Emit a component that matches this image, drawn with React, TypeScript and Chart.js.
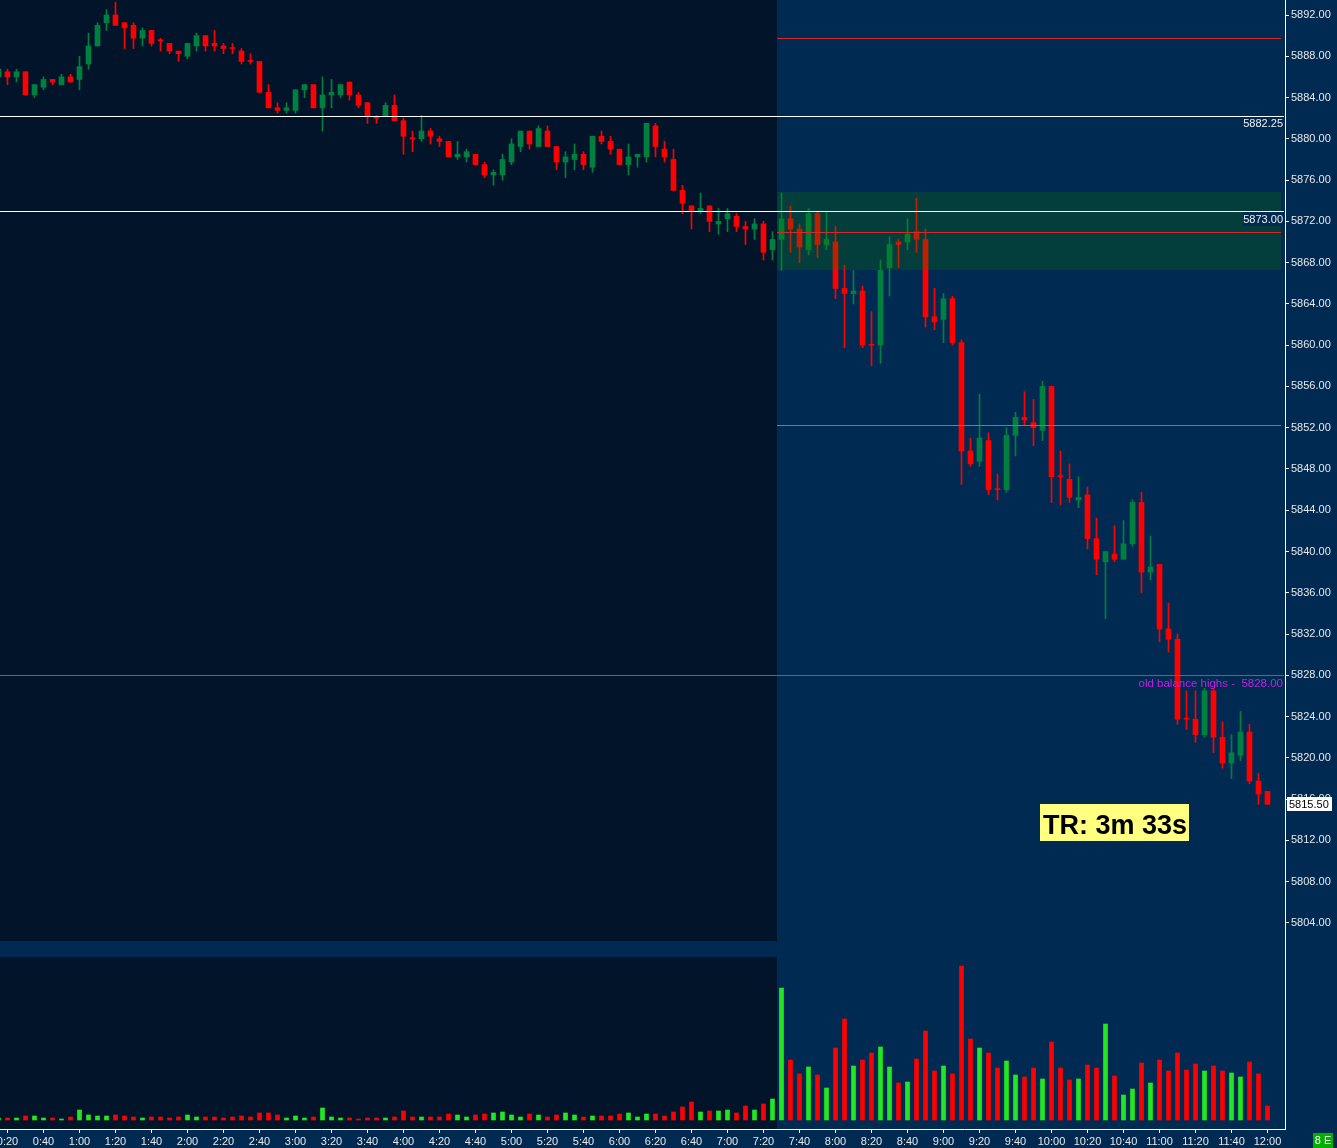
import React, { useEffect, useRef } from "react";
import { Chart, registerables } from "chart.js";

Chart.register(...registerables);

// ---------- DATA (5-minute candles) ----------
const TIMES = [
  "0:15", "0:20", "0:25", "0:30", "0:35", "0:40", "0:45", "0:50", "0:55",
  "1:00", "1:05", "1:10", "1:15", "1:20", "1:25", "1:30", "1:35", "1:40", "1:45", "1:50", "1:55",
  "2:00", "2:05", "2:10", "2:15", "2:20", "2:25", "2:30", "2:35", "2:40", "2:45", "2:50", "2:55",
  "3:00", "3:05", "3:10", "3:15", "3:20", "3:25", "3:30", "3:35", "3:40", "3:45", "3:50", "3:55",
  "4:00", "4:05", "4:10", "4:15", "4:20", "4:25", "4:30", "4:35", "4:40", "4:45", "4:50", "4:55",
  "5:00", "5:05", "5:10", "5:15", "5:20", "5:25", "5:30", "5:35", "5:40", "5:45", "5:50", "5:55",
  "6:00", "6:05", "6:10", "6:15", "6:20", "6:25", "6:30", "6:35", "6:40", "6:45", "6:50", "6:55",
  "7:00", "7:05", "7:10", "7:15", "7:20", "7:25", "7:30", "7:35", "7:40", "7:45", "7:50", "7:55",
  "8:00", "8:05", "8:10", "8:15", "8:20", "8:25", "8:30", "8:35", "8:40", "8:45", "8:50", "8:55",
  "9:00", "9:05", "9:10", "9:15", "9:20", "9:25", "9:30", "9:35", "9:40", "9:45", "9:50", "9:55",
  "10:00", "10:05", "10:10", "10:15", "10:20", "10:25", "10:30", "10:35", "10:40", "10:45", "10:50", "10:55",
  "11:00", "11:05", "11:10", "11:15", "11:20", "11:25", "11:30", "11:35", "11:40", "11:45", "11:50", "11:55",
  "12:00",
];

const OPEN = [
  5886, 5886.5, 5886, 5886.5, 5884.25, 5885, 5885.75, 5885.25, 5886,
  5885.75, 5887.25, 5889, 5891.25, 5892, 5891.25, 5891, 5889.75, 5890.5, 5889.5, 5889.25, 5888.5,
  5888, 5889, 5890, 5889.25, 5889, 5888.75, 5888.5, 5887.5, 5887.5, 5884.5, 5883, 5882.75,
  5882.75, 5884.75, 5885.25, 5883, 5884.25, 5884.25, 5885.5, 5884.25, 5883.5, 5882, 5882.25, 5883.25,
  5881.75, 5880, 5880, 5880.75, 5880, 5879.75, 5878.25, 5878.25, 5878.5, 5877.5, 5876.5, 5876.5,
  5877.75, 5879.25, 5880.75, 5879.25, 5880.75, 5879.25, 5877.75, 5878, 5878.5, 5877.25, 5880.25, 5879.75,
  5879, 5877.5, 5878.25, 5878.25, 5881.25, 5879, 5878, 5875, 5873.5, 5873, 5873.5, 5871.75,
  5872.25, 5872.5, 5871.5, 5871.25, 5871.75, 5869.25, 5870.25, 5872.25, 5871.25, 5869.25, 5872.75, 5869.75,
  5870, 5865.5, 5865, 5865.25, 5860, 5860, 5867.5, 5870, 5870, 5871, 5870.25, 5862.75,
  5862.5, 5864.5, 5860.25, 5849.75, 5848.75, 5850.75, 5846, 5846, 5851.25, 5853, 5852.5, 5851.75,
  5856, 5847.25, 5847, 5845, 5845.5, 5841.25, 5839, 5839.75, 5839.25, 5840.75, 5844.75, 5838,
  5838.75, 5832.5, 5831.5, 5823.75, 5823.75, 5822.25, 5826.5, 5822, 5819.5, 5820.25, 5822.5, 5817.75,
  5816.75,
];

const HIGH = [
  5887, 5886.75, 5886.75, 5886.5, 5885.25, 5886, 5885.75, 5886.25, 5886.25,
  5888, 5890.25, 5891.25, 5892.5, 5893.25, 5891.25, 5891.25, 5890.75, 5890.5, 5889.75, 5889.25, 5888.5,
  5889.25, 5890.25, 5890, 5890.5, 5889.25, 5889.25, 5888.75, 5888.25, 5887.5, 5885.25, 5883.5, 5883.5,
  5884.75, 5885.25, 5885.25, 5886, 5885.75, 5885.25, 5885.5, 5884.5, 5883.5, 5882.25, 5883.5, 5884.25,
  5882, 5880.75, 5882.25, 5881, 5880.25, 5879.75, 5879.75, 5879, 5878.5, 5877.75, 5877, 5878.5,
  5880, 5880.75, 5880.75, 5881.25, 5881.25, 5879.25, 5878.75, 5879.5, 5878.75, 5880.25, 5880.75, 5880.25,
  5879, 5879.5, 5878.5, 5881.5, 5881.5, 5879.75, 5879, 5875.5, 5873.5, 5874.75, 5873.5, 5873.25,
  5873.25, 5872.75, 5872, 5872.25, 5872, 5871, 5874.75, 5873.5, 5871.75, 5873.25, 5873, 5873,
  5871.5, 5867.75, 5867.25, 5865.75, 5863.25, 5868.25, 5870.5, 5870.25, 5872.25, 5874.25, 5871.25, 5865.5,
  5865, 5864.75, 5860.5, 5851, 5855.25, 5851.5, 5847.5, 5852, 5853.5, 5855.5, 5854.75, 5856.5,
  5856, 5849.75, 5848.5, 5847.25, 5846.25, 5843.25, 5840, 5842.5, 5843, 5845, 5845.75, 5841.5,
  5838.75, 5835, 5832, 5826.5, 5826.5, 5826.75, 5826.75, 5823.5, 5822.25, 5824.5, 5823.25, 5818.5,
  5816.75,
];

const LOW = [
  5885.75, 5885.25, 5885.5, 5884.25, 5884, 5884.75, 5885.25, 5885.25, 5885.5,
  5884.75, 5886.75, 5889, 5890.5, 5891, 5888.75, 5888.75, 5889, 5889, 5888.5, 5888.25, 5887.5,
  5887.75, 5888.5, 5888.5, 5888.5, 5888.25, 5888.25, 5887.25, 5887.25, 5884.5, 5883, 5882.5, 5882.5,
  5882.5, 5884, 5883, 5880.75, 5883, 5884, 5883.75, 5883, 5881.5, 5881.5, 5882.25, 5881.75,
  5878.5, 5878.75, 5879.75, 5879.5, 5879.25, 5878.25, 5878, 5877.75, 5877.5, 5876.25, 5875.5, 5876,
  5877.5, 5878.75, 5879, 5879.25, 5879.25, 5877, 5876.25, 5877, 5877, 5876.75, 5879.5, 5878.5,
  5877.5, 5876.5, 5877.25, 5877.75, 5878.25, 5877.75, 5875, 5872.75, 5871.25, 5872.75, 5871, 5870.75,
  5871, 5871, 5869.75, 5870.25, 5868.25, 5868.25, 5867.25, 5869, 5868, 5868.75, 5868.5, 5869.25,
  5864.5, 5859.75, 5864, 5859.75, 5858, 5858.25, 5864.75, 5867.5, 5869.25, 5869, 5861.75, 5861.5,
  5860.25, 5860, 5846.5, 5848.25, 5848.25, 5845.5, 5845, 5845.75, 5849.25, 5852.25, 5850.25, 5850.75,
  5844.75, 5844.5, 5844.75, 5844.25, 5840.25, 5837.75, 5833.5, 5839, 5839.25, 5840.5, 5836, 5837.25,
  5831.25, 5830.25, 5823.25, 5822.75, 5821.5, 5822, 5820.5, 5819, 5818, 5819.75, 5817.5, 5815.5,
  5815.5,
];

const CLOSE = [
  5886.75, 5886, 5886.5, 5884.25, 5885.25, 5885.75, 5885.5, 5886, 5885.5,
  5887, 5889, 5891, 5892, 5891, 5890.75, 5889.75, 5890.5, 5889.25, 5889.5, 5888.5, 5888.25,
  5889.25, 5890, 5889, 5889, 5888.75, 5888.75, 5887.5, 5887.5, 5884.5, 5883, 5882.75, 5883,
  5884.75, 5885.25, 5883, 5884.25, 5884.5, 5885.25, 5884.25, 5883.25, 5882.25, 5882, 5883.25, 5881.75,
  5880.25, 5880, 5880.75, 5880.25, 5879.75, 5878.25, 5878.5, 5878.75, 5877.5, 5876.5, 5876.75, 5878,
  5879.5, 5880.75, 5879.5, 5881, 5879.25, 5877.75, 5878.25, 5878.5, 5877.5, 5880.25, 5879.75, 5879,
  5877.5, 5878.25, 5878.5, 5881.5, 5879.25, 5878.25, 5875, 5873.75, 5873, 5873.25, 5872, 5872,
  5872.75, 5871.5, 5871.25, 5871.75, 5869, 5870.25, 5872.25, 5871.25, 5869.5, 5872.75, 5869.75, 5870.25,
  5865.5, 5865, 5865.25, 5860, 5860, 5867.25, 5869.75, 5869.75, 5870.75, 5870.25, 5862.75, 5862.25,
  5864.5, 5860.25, 5849.75, 5848.5, 5851, 5846, 5846, 5851.25, 5853, 5852.75, 5852, 5856,
  5847.25, 5847.25, 5845.25, 5845.25, 5841.25, 5839.25, 5840, 5839.25, 5840.75, 5844.75, 5838, 5838.5,
  5832.5, 5831.5, 5823.75, 5823.75, 5822.25, 5826.5, 5822, 5819.5, 5820.5, 5822.5, 5817.75, 5816.5,
  5815.5,
];

const VOLUME = [
  2, 2, 2, 4, 4, 2, 2, 1, 3,
  10, 5, 4, 4, 5, 4, 3, 2, 3, 3, 2, 3,
  5, 3, 3, 3, 2, 3, 4, 3, 7, 7, 5, 2,
  4, 2, 3, 12, 3, 2, 2, 1, 2, 2, 2, 3,
  9, 3, 3, 3, 3, 6, 5, 3, 5, 6, 7, 8,
  5, 3, 6, 5, 3, 5, 7, 5, 3, 4, 4, 4,
  6, 7, 3, 6, 6, 4, 8, 13, 18, 8, 9, 9,
  10, 7, 14, 10, 16, 21, 132, 60, 46, 53, 45, 32,
  72, 101, 54, 60, 67, 73, 53, 37, 38, 61, 89, 49,
  54, 46, 154, 81, 72, 67, 52, 59, 45, 43, 52, 41,
  78, 52, 40, 41, 55, 52, 96, 44, 25, 31, 57, 37,
  60, 49, 67, 50, 56, 49, 54, 49, 47, 43, 58, 46,
  14,
];

const PRICE_TICKS = [
  5804, 5808, 5812, 5816, 5820, 5824, 5828, 5832, 5836, 5840, 5844, 5848,
  5852, 5856, 5860, 5864, 5868, 5872, 5876, 5880, 5884, 5888, 5892,
];

const TIME_TICKS = [
  "0:20", "0:40", "1:00", "1:20", "1:40", "2:00", "2:20", "2:40", "3:00", "3:20", "3:40", "4:00",
  "4:20", "4:40", "5:00", "5:20", "5:40", "6:00", "6:20", "6:40", "7:00", "7:20", "7:40", "8:00",
  "8:20", "8:40", "9:00", "9:20", "9:40", "10:00", "10:20", "10:40", "11:00", "11:20", "11:40", "12:00",
];

// Annotation levels
const SESSION_START = "7:27:30";
const ZONE_LEVELS = [5867.3, 5874.85];
const WHITE_LEVELS = [5882.25, 5873.0];
const RED_LEVELS = [5889.75, 5871.0];
const MID_LEVEL = 5852.25;
const BALANCE_LEVEL = 5828.0;
const BALANCE_LABEL = "old balance highs";
const LAST_PRICE = 5815.5;
const TIMER_TEXT = "TR: 3m 33s";
const BADGE_TEXT = "8 E";

// ---------- LAYOUT / STYLE ----------
const W = 1337;
const PRICE_H = 957;
const GAP = 16;
const VOL_H = 191;
const AXIS_W = 52;
const X_MIN = 15.8333;
const X_MAX = 729.7222;
const P_MIN = 5802.2538;
const P_MAX = 5893.4538;
const V_MIN = -9;
const V_MAX = 163;

const BG = "#002a52";
const PRE_BG = "#011429";
const UP = "#008040";
const DOWN = "#ff0000";
const VOL_UP = "#22e822";
const VOL_DOWN = "#ff0000";
const ZONE_FILL = "rgba(11,118,0,0.26)";
const RED_LINE = "#d42a2a";
const MID_LINE = "#c65a5a";
const MAGENTA = "#c31fe8";
const TEXT = "#e8e8e8";
const FONT = '"Liberation Sans", Arial, sans-serif';

const toMin = (t: string) => {
  const p = t.split(":").map(Number);
  return p[0] * 60 + p[1] + (p[2] ? p[2] / 60 : 0);
};
const fmtMin = (v: number) =>
  `${Math.floor(v / 60)}:${String(Math.round(v % 60)).padStart(2, "0")}`;

export default function App() {
  const priceRef = useRef<HTMLCanvasElement>(null);
  const volRef = useRef<HTMLCanvasElement>(null);

  useEffect(() => {
    const xs = TIMES.map(toMin);
    const isUp = (i: number) => CLOSE[i] > OPEN[i];
    const candleColor = (c: any) => (isUp(c.dataIndex) ? UP : DOWN);
    const volColor = (c: any) => (isUp(c.dataIndex) ? VOL_UP : VOL_DOWN);
    const zeroPad = (s: any) => {
      s.paddingTop = 0;
      s.paddingBottom = 0;
      s.paddingLeft = 0;
      s.paddingRight = 0;
    };

    const hline = (ctx: any, yy: number, x0: number, x1: number, col: string) => {
      const y = Math.round(yy) + 0.5;
      ctx.beginPath();
      ctx.moveTo(x0, y);
      ctx.lineTo(x1, y);
      ctx.strokeStyle = col;
      ctx.lineWidth = 1;
      ctx.stroke();
    };

    const pricePlugin = {
      id: "priceDecor",
      beforeDatasetsDraw(chart: any) {
        const { ctx, chartArea: a, scales } = chart;
        const xs0 = Math.round(scales.x.getPixelForValue(toMin(SESSION_START)));
        ctx.save();
        ctx.fillStyle = PRE_BG;
        ctx.fillRect(a.left, a.top, xs0 - a.left, a.bottom - a.top);
        ctx.restore();
      },
      afterDatasetsDraw(chart: any) {
        const { ctx, chartArea: a, scales } = chart;
        const x = scales.x;
        const y = scales.y;
        const xs0 = Math.round(x.getPixelForValue(toMin(SESSION_START)));
        const rEnd = a.right - 4;
        const wEnd = a.right - 1;
        ctx.save();
        const zt = Math.round(y.getPixelForValue(ZONE_LEVELS[1]));
        const zb = Math.round(y.getPixelForValue(ZONE_LEVELS[0]));
        ctx.fillStyle = ZONE_FILL;
        ctx.fillRect(xs0, zt, rEnd - xs0, zb - zt);

        hline(ctx, y.getPixelForValue(RED_LEVELS[0]), xs0, rEnd, RED_LINE);
        hline(ctx, y.getPixelForValue(RED_LEVELS[1]), xs0, rEnd, RED_LINE);
        hline(ctx, y.getPixelForValue(MID_LEVEL), xs0, rEnd, MID_LINE);
        hline(ctx, y.getPixelForValue(BALANCE_LEVEL), a.left, wEnd, MAGENTA);
        hline(ctx, y.getPixelForValue(WHITE_LEVELS[0]), a.left, wEnd, "#ffffff");
        hline(ctx, y.getPixelForValue(WHITE_LEVELS[1]), a.left, wEnd, "#ffffff");

        ctx.font = `11px ${FONT}`;
        ctx.textAlign = "right";
        ctx.textBaseline = "alphabetic";
        const y1 = y.getPixelForValue(WHITE_LEVELS[0]);
        ctx.fillStyle = "#f0f0f0";
        ctx.fillText(WHITE_LEVELS[0].toFixed(2), a.right - 2, y1 + 11);

        const y2 = Math.round(y.getPixelForValue(WHITE_LEVELS[1]));
        ctx.fillStyle = BG;
        ctx.fillRect(a.right - 42, y2 + 1, 41, 14);
        ctx.fillStyle = "#f0f0f0";
        ctx.fillText(WHITE_LEVELS[1].toFixed(2), a.right - 2, y2 + 12);

        const yb = y.getPixelForValue(BALANCE_LEVEL);
        ctx.font = `11.5px ${FONT}`;
        ctx.fillStyle = MAGENTA;
        ctx.fillText(`${BALANCE_LABEL} -  ${BALANCE_LEVEL.toFixed(2)}`, a.right - 2, yb + 12);

        // timer badge
        ctx.fillStyle = "#ffff80";
        ctx.fillRect(1040, 804, 149, 37);
        ctx.fillStyle = "#000000";
        ctx.font = `bold 27px ${FONT}`;
        ctx.textAlign = "left";
        ctx.fillText(TIMER_TEXT, 1043, 834);
        ctx.restore();
      },
      afterDraw(chart: any) {
        const { ctx, chartArea: a, scales } = chart;
        const y = scales.y;
        ctx.save();
        // axis line through the gap between panels
        ctx.fillStyle = "#ffffff";
        ctx.fillRect(a.right, a.bottom, 1, GAP);
        // last price marker
        const yl = Math.round(y.getPixelForValue(LAST_PRICE));
        ctx.fillStyle = "#ffffff";
        ctx.fillRect(a.right + 2, yl - 7, 45, 14);
        ctx.fillStyle = "#000000";
        ctx.font = `11px ${FONT}`;
        ctx.textAlign = "left";
        ctx.textBaseline = "middle";
        ctx.fillText(LAST_PRICE.toFixed(2), a.right + 4, yl + 0.5);
        ctx.restore();
      },
    };

    const volPlugin = {
      id: "volDecor",
      beforeDatasetsDraw(chart: any) {
        const { ctx, chartArea: a, scales } = chart;
        const xs0 = Math.round(scales.x.getPixelForValue(toMin(SESSION_START)));
        ctx.save();
        ctx.fillStyle = PRE_BG;
        ctx.fillRect(a.left, a.top, xs0 - a.left, a.bottom - a.top);
        ctx.restore();
      },
      afterDraw(chart: any) {
        const { ctx, chartArea: a } = chart;
        ctx.save();
        ctx.fillStyle = "#00b000";
        ctx.fillRect(a.right + 28, a.bottom + 4, 20, 15);
        ctx.fillStyle = "#ffffff";
        ctx.font = `11px ${FONT}`;
        ctx.textAlign = "center";
        ctx.textBaseline = "middle";
        ctx.fillText(BADGE_TEXT, a.right + 38, a.bottom + 12);
        ctx.restore();
      },
    };

    const xScaleHidden: any = {
      type: "linear",
      min: X_MIN,
      max: X_MAX,
      offset: false,
      display: false,
      grid: { offset: false },
      afterFit: zeroPad,
    };

    const price = new Chart(priceRef.current as HTMLCanvasElement, {
      type: "bar",
      data: {
        datasets: [
          {
            label: "body",
            data: xs.map((x, i) => ({ x, y: [OPEN[i], CLOSE[i]] })) as any,
            backgroundColor: candleColor as any,
            barThickness: 5,
            minBarLength: 1,
            grouped: false,
            borderWidth: 0,
          },
          {
            label: "wick",
            data: xs.map((x, i) => ({ x, y: [LOW[i], HIGH[i]] })) as any,
            backgroundColor: candleColor as any,
            barThickness: 1,
            grouped: false,
            borderWidth: 0,
          },
        ],
      },
      options: {
        responsive: false,
        animation: false,
        devicePixelRatio: 1,
        layout: { padding: { left: 0, right: 0, top: 0, bottom: GAP } },
        plugins: { legend: { display: false }, tooltip: { enabled: false } },
        scales: {
          x: xScaleHidden,
          y: {
            type: "linear",
            position: "right",
            min: P_MIN,
            max: P_MAX,
            afterBuildTicks: (s: any) => {
              s.ticks = PRICE_TICKS.map((v) => ({ value: v }));
            },
            afterFit: (s: any) => {
              s.width = AXIS_W;
              zeroPad(s);
            },
            ticks: {
              color: TEXT,
              font: { family: FONT, size: 11 },
              padding: 2,
              callback: (v: any) => Number(v).toFixed(2),
            },
            grid: { drawOnChartArea: false, drawTicks: true, tickLength: 4, color: "#ffffff" },
            border: { color: "#ffffff", width: 1 },
          } as any,
        },
      },
      plugins: [pricePlugin],
    });

    const vol = new Chart(volRef.current as HTMLCanvasElement, {
      type: "bar",
      data: {
        datasets: [
          {
            label: "volume",
            data: xs.map((x, i) => ({ x, y: VOLUME[i] })) as any,
            backgroundColor: volColor as any,
            barThickness: 4,
            grouped: false,
            borderWidth: 0,
          },
        ],
      },
      options: {
        responsive: false,
        animation: false,
        devicePixelRatio: 1,
        layout: { padding: 0 },
        plugins: { legend: { display: false }, tooltip: { enabled: false } },
        scales: {
          x: {
            type: "linear",
            position: "bottom",
            min: X_MIN,
            max: X_MAX,
            offset: false,
            afterBuildTicks: (s: any) => {
              s.ticks = TIME_TICKS.map((t) => ({ value: toMin(t) }));
            },
            afterFit: (s: any) => {
              s.height = 19;
              zeroPad(s);
            },
            ticks: {
              color: TEXT,
              font: { family: FONT, size: 11 },
              padding: 2,
              autoSkip: false,
              maxRotation: 0,
              callback: (v: any) => fmtMin(Number(v)),
            },
            grid: {
              offset: false,
              drawOnChartArea: false,
              drawTicks: true,
              tickLength: 4,
              color: "#ffffff",
            },
            border: { color: "#ffffff", width: 1 },
          } as any,
          y: {
            type: "linear",
            position: "right",
            min: V_MIN,
            max: V_MAX,
            afterFit: (s: any) => {
              s.width = AXIS_W;
              zeroPad(s);
            },
            ticks: { display: false },
            grid: { display: false },
            border: { color: "#ffffff", width: 1 },
          } as any,
        },
      },
      plugins: [volPlugin],
    });

    return () => {
      price.destroy();
      vol.destroy();
    };
  }, []);

  return (
    <div
      style={{
        position: "absolute",
        left: 0,
        top: 0,
        width: W,
        height: PRICE_H + VOL_H,
        background: BG,
        overflow: "hidden",
      }}
    >
      <canvas
        ref={priceRef}
        width={W}
        height={PRICE_H}
        style={{ position: "absolute", left: 0, top: 0, width: W, height: PRICE_H }}
      />
      <canvas
        ref={volRef}
        width={W}
        height={VOL_H}
        style={{ position: "absolute", left: 0, top: PRICE_H, width: W, height: VOL_H }}
      />
    </div>
  );
}
